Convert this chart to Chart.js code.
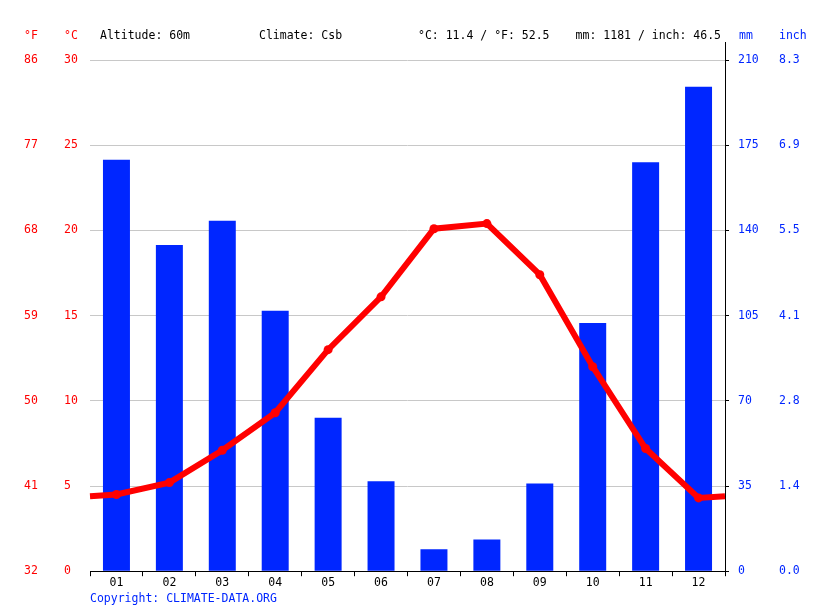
<!DOCTYPE html>
<html><head><meta charset="utf-8">
<script src="https://cdn.jsdelivr.net/npm/chart.js@4/dist/chart.umd.min.js"></script>
<style>html,body{margin:0;padding:0;background:#fff}#wrap{width:815px;height:611px}</style>
</head><body><div id="wrap"><canvas id="c" width="815" height="611"></canvas></div>
<script>
const months = ['01','02','03','04','05','06','07','08','09','10','11','12'];
const precipMm = [169,134,144,107,63,37,9,13,36,102,168,199];
const tempC = [4.5,5.2,7.1,9.3,13.0,16.1,20.1,20.4,17.4,12.0,7.2,4.3];
const tempEdgeC = [4.4, 4.4]; // line value at the left and right plot edges
const tempTicksC = [0,5,10,15,20,25,30];
const tempTicksF = ['32','41','50','59','68','77','86'];
const precipTicksMm = [0,35,70,105,140,175,210];
const precipTicksInch = ['0.0','1.4','2.8','4.1','5.5','6.9','8.3'];
const header = {alt:'Altitude: 60m', clim:'Climate: Csb', temp:'°C: 11.4 / °F: 52.5', prec:'mm: 1181 / inch: 46.5'};

const RED = '#ff0000', BLUE = '#0026ff', FONT = "'DejaVu Sans Mono', monospace";
const linePts = [{x:0.5,y:tempEdgeC[0]}].concat(tempC.map((v,i)=>({x:i+1,y:v}))).concat([{x:12.5,y:tempEdgeC[1]}]);
const radii = linePts.map((p,i)=> (i===0||i===linePts.length-1)?0:4.5);

const extras = {
  id:'extras',
  afterDraw(chart){
    const ctx = chart.ctx, ca = chart.chartArea;
    const mm = chart.scales.ymm;
    ctx.save();
    ctx.strokeStyle = '#000'; ctx.lineWidth = 1;
    ctx.beginPath(); ctx.moveTo(Math.round(mm.left)+0.5, 42); ctx.lineTo(Math.round(mm.left)+0.5, ca.top); ctx.stroke();
    ctx.font = '11.5px ' + FONT; ctx.textBaseline = 'middle'; ctx.textAlign = 'left';
    const y = 36;
    ctx.fillStyle = RED; ctx.fillText('°F', 24, y); ctx.fillText('°C', 64, y);
    ctx.fillStyle = '#000';
    ctx.fillText(header.alt, 100, y); ctx.fillText(header.clim, 259, y); ctx.fillText(header.temp, 418, y);
    ctx.textAlign = 'right'; ctx.fillText(header.prec, 721, y);
    ctx.textAlign = 'left'; ctx.fillStyle = BLUE;
    ctx.fillText('mm', 739, y); ctx.fillText('inch', 779, y);
    ctx.fillText('Copyright: CLIMATE-DATA.ORG', 90, 599);
    ctx.restore();
  }
};

new Chart(document.getElementById('c'), {
  data: {
    labels: months,
    datasets: [
      {type:'line', data: linePts, xAxisID:'xl', yAxisID:'yc', borderColor: RED, backgroundColor: RED,
       borderWidth: 6, pointRadius: radii, pointBackgroundColor: RED, pointBorderColor: RED, pointBorderWidth:0,
       tension: 0, order: 0, clip: false},
      {type:'bar', data: precipMm, xAxisID:'x', yAxisID:'ymm', backgroundColor: BLUE, borderWidth:0,
       barPercentage: 0.51, categoryPercentage: 1.0, grouped: false, order: 1}
    ]
  },
  options: {
    responsive:false, animation:false, devicePixelRatio:1,
    layout:{padding:{left:24, right:0, top:60, bottom:21}},
    plugins:{legend:{display:false}, tooltip:{enabled:false}},
    scales:{
      x:{type:'category', position:'bottom', offset:true,
         grid:{display:true, drawOnChartArea:false, drawTicks:true, tickLength:5, color:'#000', offset:true},
         border:{display:true, color:'#000', width:1},
         ticks:{color:'#000', font:{family:FONT, size:11.5}, padding:0, maxRotation:0}},
      xl:{type:'linear', display:false, min:0.5, max:12.5},
      yf:{type:'linear', position:'left', weight:10, min:0, max:30,
          afterBuildTicks(s){ s.ticks = tempTicksC.map(v=>({value:v})); },
          afterFit(s){ s.width = 40; },
          grid:{display:false, drawTicks:false}, border:{display:false},
          ticks:{crossAlign:'far', color:RED, font:{family:FONT, size:11.5}, padding:0,
                 callback:(v,i)=>tempTicksF[i]}},
      yc:{type:'linear', position:'left', weight:5, min:0, max:30,
          afterBuildTicks(s){ s.ticks = tempTicksC.map(v=>({value:v})); },
          afterFit(s){ s.width = 26; },
          grid:{display:true, drawOnChartArea:true, drawTicks:false, color:'#c8c8c8', lineWidth:1},
          border:{display:false},
          ticks:{crossAlign:'far', color:RED, font:{family:FONT, size:11.5}, padding:0,
                 callback:(v)=>String(v)}},
      ymm:{type:'linear', position:'right', weight:5, min:0, max:210,
          afterBuildTicks(s){ s.ticks = precipTicksMm.map(v=>({value:v})); },
          afterFit(s){ s.width = 54; },
          grid:{display:true, drawOnChartArea:false, drawTicks:true, tickLength:4, color:'#000'},
          border:{display:true, color:'#000', width:1},
          ticks:{color:BLUE, font:{family:FONT, size:11.5}, padding:9, callback:(v)=>String(v)}},
      yin:{type:'linear', position:'right', weight:10, min:0, max:210,
          afterBuildTicks(s){ s.ticks = precipTicksMm.map(v=>({value:v})); },
          afterFit(s){ s.width = 36; },
          grid:{display:false, drawTicks:false}, border:{display:false},
          ticks:{color:BLUE, font:{family:FONT, size:11.5}, padding:0, callback:(v,i)=>precipTicksInch[i]}}
    }
  },
  plugins:[extras]
});
</script></body></html>
